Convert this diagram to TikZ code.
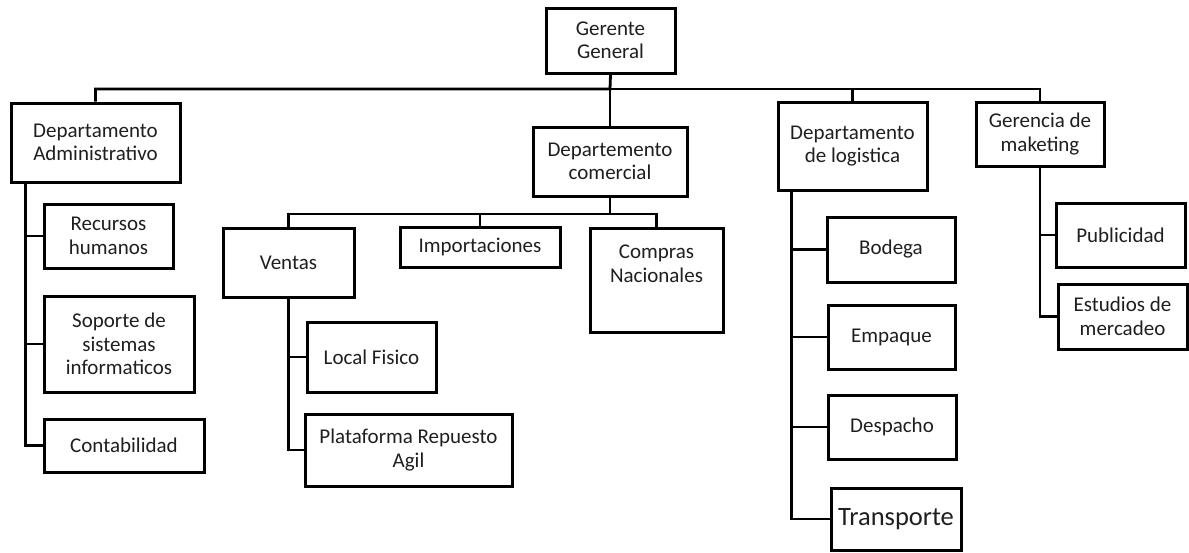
\documentclass[tikz,border=0pt]{standalone}
\usepackage{fontspec}
\setmainfont{Carlito}
\usetikzlibrary{calc}
% org box given by its corners: name, x1, y1, x2, y2, text
\newcommand\orgbox[6]{%
  \node[box, minimum width={#4-#2}, minimum height={#5-#3}] (#1)
    at ({(#2+#4)/2},{(#3+#5)/2}) {#6};}
\begin{document}
\begin{tikzpicture}[x=1pt,y=-1pt,
  box/.style={draw=black, line width=3pt, fill=white, inner sep=0pt,
    align=center, text=black!88, font=\fontsize{21}{23.5}\selectfont},
  link/.style={draw=black, line width=2.8pt},
  label text/.style={align=center, text=black!88, inner sep=0pt,
    font=\fontsize{21}{23.5}\selectfont}]
\useasboundingbox (0,0) rectangle (1189,552);

% top level
\orgbox{gg}{546}{8}{675}{73}{Gerente\\General}

% departments
\orgbox{adm}{11}{103}{180}{182}{Departamento\\Administrativo}
\orgbox{com}{533}{127}{687}{196}{Departemento\\comercial}
\orgbox{log}{778}{102}{927}{190}{Departamento\\de logistica}
\orgbox{mkt}{976}{102}{1104}{166}{Gerencia de\\maketing}

% administrative units
\orgbox{rh}{44}{204}{173}{268}{Recursos\\humanos}
\orgbox{sop}{44}{296}{194}{392}{Soporte de\\sistemas\\informaticos}
\orgbox{cont}{44}{419}{204}{472}{Contabilidad}

% commercial units
\orgbox{ven}{223}{228}{354}{297}{Ventas}
\orgbox{imp}{400}{227}{560}{267}{Importaciones}
\orgbox{cpr}{590}{228}{723}{332}{}
\node[label text] (cprT) at (656.5,264) {Compras\\Nacionales};
\orgbox{loc}{307}{322}{436}{392}{Local Fisico}
\orgbox{plat}{305}{414}{512}{486}{Plataforma Repuesto\\Agil}

% logistics units
\orgbox{bod}{827}{217}{955}{282}{Bodega}
\orgbox{emp}{828}{305}{955}{369}{Empaque}
\orgbox{des}{828}{395}{956}{459}{Despacho}
\orgbox{tra}{831}{488}{961}{550}{\fontsize{26.5}{30}\selectfont Transporte}

% marketing units
\orgbox{pub}{1056}{203}{1185}{267}{Publicidad}
\orgbox{est}{1058}{284}{1187}{349}{Estudios de\\mercadeo}

% main bus
\coordinate (bus) at (610,89);
\draw[link] (gg.south) -- (bus) -| (adm.north);
\draw[link] (bus) -- (com.north);
\draw[link] (bus) -| (log.north);
\draw[link] (bus) -| (mkt.north);

% commercial bus
\coordinate (cbus) at (610,214);
\draw[link] (com.south) -- (cbus) -| (ven.north);
\draw[link] (cbus) -| (imp.north);
\draw[link] (cbus) -| (cpr.north);

% side rails
\coordinate (admR) at ($(adm.south west)+(16,0)$);
\draw[link] (admR) |- (rh.west);
\draw[link] (admR) |- (sop.west);
\draw[link] (admR) |- (cont.west);

\draw[link] (ven.south) |- (loc.west);
\draw[link] (ven.south) |- (plat.west);

\coordinate (logR) at ($(log.south west)+(15,0)$);
\draw[link] (logR) |- (bod.west);
\draw[link] (logR) |- (emp.west);
\draw[link] (logR) |- (des.west);
\draw[link] (logR) |- (tra.west);

\draw[link] (mkt.south) |- (pub.west);
\draw[link] (mkt.south) |- (est.west);
\end{tikzpicture}
\end{document}
